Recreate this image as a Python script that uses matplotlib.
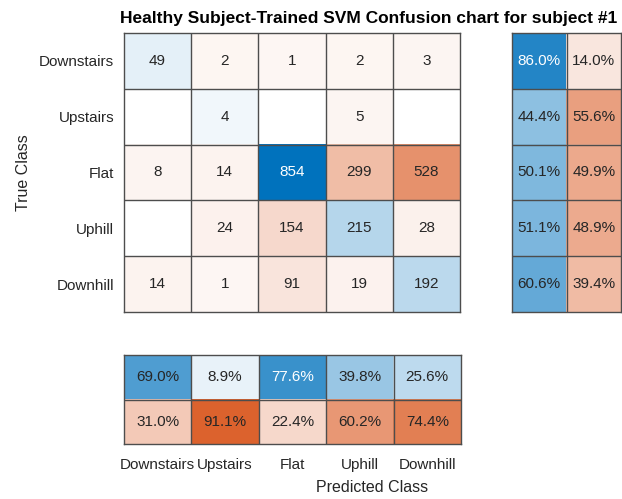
import numpy as np
import matplotlib
matplotlib.use("Agg")
import matplotlib.pyplot as plt

classes = ['Downstairs', 'Upstairs', 'Flat', 'Uphill', 'Downhill']
counts = [
    [49, 2, 1, 2, 3],
    [0, 4, 0, 5, 0],
    [8, 14, 854, 299, 528],
    [0, 24, 154, 215, 28],
    [14, 1, 91, 19, 192],
]
row_correct = [86.0, 44.4, 50.1, 51.1, 60.6]
row_wrong = [14.0, 55.6, 49.9, 48.9, 39.4]
col_correct = [69.0, 8.9, 77.6, 39.8, 25.6]
col_wrong = [31.0, 91.1, 22.4, 60.2, 74.4]

BLUE = np.array([0, 114, 189]) / 255.0
ORANGE = np.array([217, 83, 25]) / 255.0
WHITE = np.ones(3)
TXT = (0.15, 0.15, 0.15)
EDGE = (0.3, 0.3, 0.3)
FONT = 'Liberation Sans'
plt.rcParams['font.family'] = [FONT, 'DejaVu Sans']

def shade(base, a):
    return WHITE * (1 - a) + base * a

W, H = 622, 499
fig = plt.figure(figsize=(W / 100, H / 100), dpi=100)

def add_ax(x0, y0, x1, y1):
    return fig.add_axes([x0 / W, 1 - y1 / H, (x1 - x0) / W, (y1 - y0) / H])

def draw_grid(ax, colors, texts, tcolors, nrows, ncols, fs=11):
    img = np.array(colors)
    ax.imshow(img, extent=(0, ncols, nrows, 0), aspect='auto', interpolation='nearest')
    for r in range(nrows):
        for c in range(ncols):
            if texts[r][c]:
                ax.text(c + 0.5, r + 0.5, texts[r][c], ha='center', va='center',
                        fontsize=fs, color=tcolors[r][c])
    for k in range(1, nrows):
        ax.axhline(k, color=EDGE, lw=1.0)
    for k in range(1, ncols):
        ax.axvline(k, color=EDGE, lw=1.0)
    for s in ax.spines.values():
        s.set_color(EDGE)
        s.set_linewidth(1.0)
    ax.set_xlim(0, ncols)
    ax.set_ylim(nrows, 0)
    ax.set_xticks([])
    ax.set_yticks([])

n = len(classes)
cm = np.array(counts, dtype=float)
mx = cm.max()

# main matrix
cols, txts, tcols = [], [], []
for r in range(n):
    rc, rt, rtc = [], [], []
    for c in range(n):
        v = cm[r, c]
        a = 0.0 if v == 0 else 0.05 + 0.95 * v / mx
        base = BLUE if r == c else ORANGE
        rc.append(shade(base, a))
        rt.append('' if v == 0 else f'{int(v)}')
        rtc.append('white' if (r == c and a > 0.7) else TXT)
    cols.append(rc); txts.append(rt); tcols.append(rtc)
ax = add_ax(124, 33, 460, 312)
draw_grid(ax, cols, txts, tcols, n, n)
ax.set_yticks(np.arange(n) + 0.5)
ax.set_yticklabels(classes, fontsize=11, color=TXT)
ax.tick_params(axis='y', length=0, pad=7)
ax.set_ylabel('True Class', fontsize=11.5, color=TXT, labelpad=6)

# row summary
cols, txts, tcols = [], [], []
for r in range(n):
    a1, a2 = row_correct[r] / 100, row_wrong[r] / 100
    cols.append([shade(BLUE, a1), shade(ORANGE, a2)])
    txts.append([f'{row_correct[r]:.1f}%', f'{row_wrong[r]:.1f}%'])
    tcols.append(['white' if a1 > 0.7 else TXT, TXT])
ax2 = add_ax(512, 33, 621, 312)
draw_grid(ax2, cols, txts, tcols, n, 2)

# column summary
c1 = [shade(BLUE, v / 100) for v in col_correct]
c2 = [shade(ORANGE, v / 100) for v in col_wrong]
t1 = [f'{v:.1f}%' for v in col_correct]
t2 = [f'{v:.1f}%' for v in col_wrong]
tc1 = ['white' if v / 100 > 0.7 else TXT for v in col_correct]
tc2 = [TXT for v in col_wrong]
ax3 = add_ax(124, 355, 461, 444)
draw_grid(ax3, [c1, c2], [t1, t2], [tc1, tc2], 2, n)
ax3.set_xticks(np.arange(n) + 0.5)
ax3.set_xticklabels(classes, fontsize=11, color=TXT)
ax3.tick_params(axis='x', length=0, pad=10)

fig.text(372 / W, 1 - 487 / H, 'Predicted Class', ha='center', va='center',
         fontsize=11.5, color=TXT)
fig.text(369 / W, 1 - 18 / H, 'Healthy Subject-Trained SVM Confusion chart for subject #1',
         ha='center', va='center', fontsize=12.5, fontweight='bold', color='black')

fig.savefig('out.png', dpi=100)
